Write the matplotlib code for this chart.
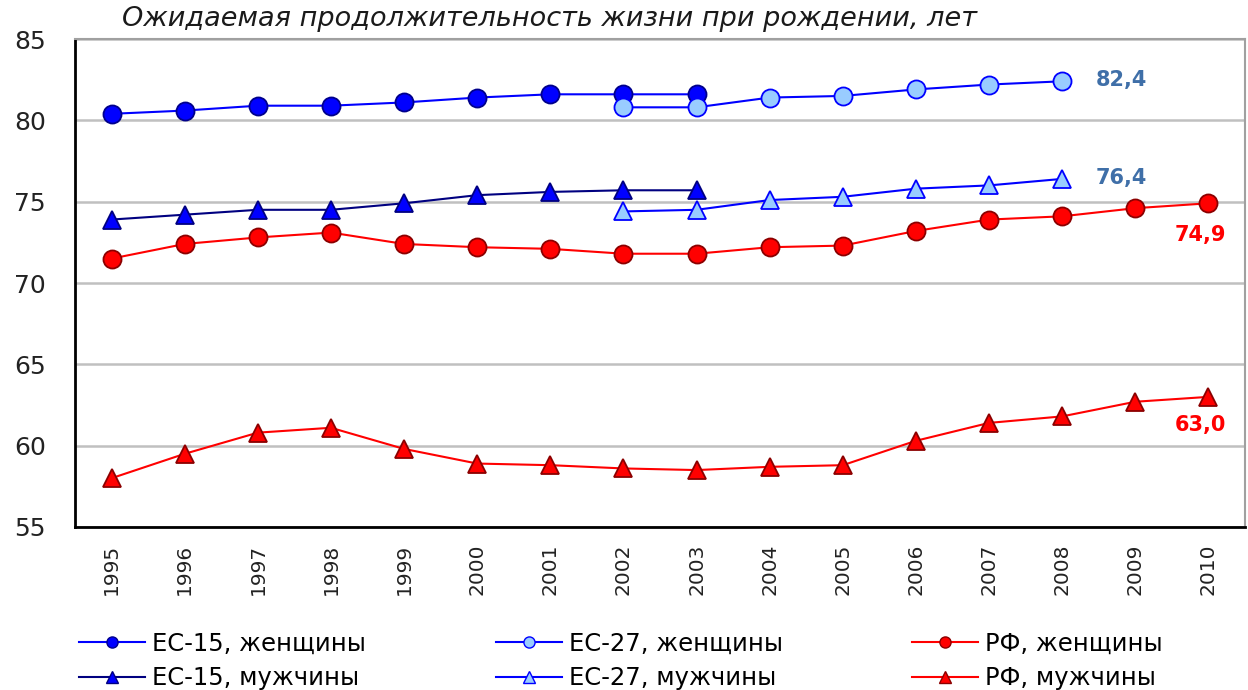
import matplotlib
matplotlib.use("Agg")
import matplotlib.pyplot as plt
from matplotlib.lines import Line2D

plt.rcParams['font.family'] = ['DejaVu Sans']

years = list(range(1995, 2011))
years_eu15 = list(range(1995, 2004))
years_eu27 = list(range(2002, 2009))

eu15_women = [80.4, 80.6, 80.9, 80.9, 81.1, 81.4, 81.6, 81.6, 81.6]
eu27_women = [80.8, 80.8, 81.4, 81.5, 81.9, 82.2, 82.4]
rf_women = [71.5, 72.4, 72.8, 73.1, 72.4, 72.2, 72.1, 71.8, 71.8,
            72.2, 72.3, 73.2, 73.9, 74.1, 74.6, 74.9]
eu15_men = [73.9, 74.2, 74.5, 74.5, 74.9, 75.4, 75.6, 75.7, 75.7]
eu27_men = [74.4, 74.5, 75.1, 75.3, 75.8, 76.0, 76.4]
rf_men = [58.0, 59.5, 60.8, 61.1, 59.8, 58.9, 58.8, 58.6, 58.5,
          58.7, 58.8, 60.3, 61.4, 61.8, 62.7, 63.0]

labels = ["ЕС-15, женщины", "ЕС-15, мужчины",
          "ЕС-27, женщины", "ЕС-27, мужчины",
          "РФ, женщины", "РФ, мужчины"]
title = "Ожидаемая продолжительность жизни при рождении, лет"
yticks = [55, 60, 65, 70, 75, 80, 85]

fig = plt.figure(figsize=(12.48, 6.9), dpi=100)
ax = fig.add_axes([75/1248, 1-527/690, 1170/1248, 488/690])

styles = [
    dict(color='#0000FF', marker='o', mfc='#0000FF', mec='#00008B', ms=13),
    dict(color='#000080', marker='^', mfc='#0000FF', mec='#000080', ms=13),
    dict(color='#0000FF', marker='o', mfc='#99CCFF', mec='#0000FF', ms=13),
    dict(color='#0000FF', marker='^', mfc='#99CCFF', mec='#0000FF', ms=13),
    dict(color='#FF0000', marker='o', mfc='#FF0000', mec='#8B0000', ms=13),
    dict(color='#FF0000', marker='^', mfc='#FF0000', mec='#8B0000', ms=13),
]
series = [(years_eu15, eu15_women), (years_eu15, eu15_men),
          (years_eu27, eu27_women), (years_eu27, eu27_men),
          (years, rf_women), (years, rf_men)]
order = [0, 1, 4, 5, 2, 3]
for i in order:
    xs, ys = series[i]
    st = styles[i]
    ax.plot(xs, ys, color=st['color'], lw=1.5, marker=st['marker'],
            mfc=st['mfc'], mec=st['mec'], ms=st['ms'], mew=1.3, zorder=3)

ax.set_xlim(1994.5, 2010.5)
ax.set_ylim(55, 85)
ax.set_yticks(yticks)
ax.set_xticks(years)
ax.set_xticklabels([str(y) for y in years], rotation=90)
ax.tick_params(axis='both', length=0, colors='#222222')
ax.tick_params(axis='x', pad=12, labelsize=14.5)
ax.tick_params(axis='y', pad=21, labelsize=18)
ax.grid(axis='y', color='#C0C0C0', lw=1.8)
ax.set_axisbelow(True)
ax.spines['left'].set_color('#000000')
ax.spines['bottom'].set_color('#000000')
ax.spines['left'].set_linewidth(2)
ax.spines['bottom'].set_linewidth(2)
ax.spines['top'].set_color('#A0A0A0')
ax.spines['right'].set_color('#A0A0A0')
ax.spines['top'].set_linewidth(1.5)
ax.spines['right'].set_linewidth(1.5)

def fmt(v):
    return f"{v:.1f}".replace('.', ',')

blue_lbl = '#3F6FA8'
ax.annotate(fmt(eu27_women[-1]), xy=(years_eu27[-1], eu27_women[-1]),
            xytext=(24, 1), textcoords='offset points', ha='left', va='center',
            fontsize=15, fontweight='bold', color=blue_lbl)
ax.annotate(fmt(eu27_men[-1]), xy=(years_eu27[-1], eu27_men[-1]),
            xytext=(24, 1), textcoords='offset points', ha='left', va='center',
            fontsize=15, fontweight='bold', color=blue_lbl)
ax.annotate(fmt(rf_women[-1]), xy=(years[-1], rf_women[-1]),
            xytext=(-6, -23), textcoords='offset points', ha='center', va='center',
            fontsize=15, fontweight='bold', color='#FF0000')
ax.annotate(fmt(rf_men[-1]), xy=(years[-1], rf_men[-1]),
            xytext=(-6, -20), textcoords='offset points', ha='center', va='center',
            fontsize=15, fontweight='bold', color='#FF0000')

fig.text(122/1248, 1-19/690, title, ha='left', va='center', fontsize=19.5,
         style='italic', color='#1A1A1A')

xs_leg = [79, 496, 912]
for c in range(3):
    hs = []
    for k in range(2):
        st = styles[c*2 + k]
        hs.append(Line2D([], [], color=st['color'], lw=1.5, marker=st['marker'],
                         mfc=st['mfc'], mec=st['mec'], ms=8, mew=1))
    fig.legend(hs, labels[c*2:c*2+2], loc='upper left',
               bbox_to_anchor=(xs_leg[c]/1248, 1-632/690), frameon=False,
               fontsize=17.5, handlelength=2.7, handletextpad=0.3,
               labelspacing=0.42, borderaxespad=0, borderpad=0)

fig.savefig("out.png", dpi=100)
